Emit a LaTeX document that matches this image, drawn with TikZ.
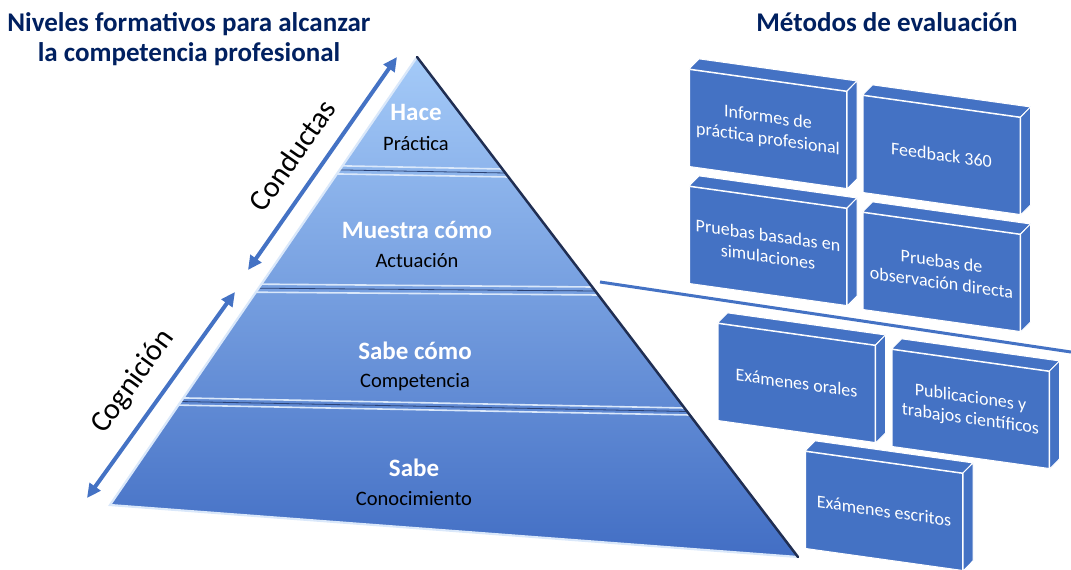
\documentclass[tikz,border=0pt]{standalone}
\usepackage{fontspec}
\setmainfont{Carlito}
\usetikzlibrary{arrows.meta,calc,positioning}

\definecolor{titulo}{RGB}{0,32,96}
\definecolor{cajaazul}{RGB}{68,114,196}
\definecolor{piratop}{RGB}{164,202,248}
\definecolor{piramid}{RGB}{84,136,222}
\definecolor{pirabot}{RGB}{66,110,196}
\definecolor{sombra}{RGB}{32,46,82}
\definecolor{brillo}{RGB}{218,232,250}

\tikzset{
  titulo/.style={font=\bfseries\fontsize{27}{30}\selectfont, text=titulo, align=center, inner sep=0pt},
  nivel/.style={font=\bfseries\fontsize{25}{28}\selectfont, text=white},
  sub/.style={font=\fontsize{20.5}{24}\selectfont, text=black},
  eje/.style={font=\fontsize{30}{34}\selectfont, text=black},
  flecha/.style={cajaazul, line width=4pt},
  metodo/.style={draw=white, line width=1pt, fill=cajaazul, text=white,
    minimum width=157pt, minimum height=97pt, align=center,
    font=\fontsize{18}{21.5}\selectfont, transform shape},
  cara/.style={draw=white, line width=1pt, fill=cajaazul, line join=round},
  borde/.style={brillo, line width=1.6pt},
  corte/.style={sombra!70!cajaazul, line width=0.8pt}
}

% top and side face of a box
\newcommand{\caras}[1]{%
  \filldraw[cara] (#1.north west) -- (#1.north east)
    -- ($(#1.north east)+(10,-11.5)$) -- ($(#1.north west)+(10,-11.5)$) -- cycle;
  \filldraw[cara] (#1.north east) -- ($(#1.north east)+(10,-11.5)$)
    -- ($(#1.south east)+(10,-11.5)$) -- (#1.south east) -- cycle;
}

\begin{document}
\begin{tikzpicture}[x=1pt,y=-1pt,>={Triangle[length=14pt,width=13pt]},node distance=31pt]
  \useasboundingbox (0,0) rectangle (1071,570);

  % titles
  \node[titulo, anchor=north] (tizq) at (189,12) {Niveles formativos para alcanzar\\la competencia profesional};
  \node[titulo, anchor=base] (tder) at (887,31) {Métodos de evaluación};

  % pyramid
  \coordinate (apex) at (417,57);
  \coordinate (bl) at (110,505);
  \coordinate (br) at (798,557);
  \shade[top color=piratop, middle color=piramid, bottom color=pirabot] (apex) -- (bl) -- (br) -- cycle;

  \draw[borde] ($(apex)!0.243!(bl)$) -- ($(apex)!0.224!(br)$);
  \draw[corte] ($(apex)!0.252!(bl)$) -- ($(apex)!0.232!(br)$);
  \draw[borde] ($(apex)!0.261!(bl)$) -- ($(apex)!0.240!(br)$);

  \draw[borde] ($(apex)!0.507!(bl)$) -- ($(apex)!0.460!(br)$);
  \draw[corte] ($(apex)!0.516!(bl)$) -- ($(apex)!0.468!(br)$);
  \draw[borde] ($(apex)!0.525!(bl)$) -- ($(apex)!0.476!(br)$);

  \draw[borde] ($(apex)!0.761!(bl)$) -- ($(apex)!0.702!(br)$);
  \draw[corte] ($(apex)!0.769!(bl)$) -- ($(apex)!0.709!(br)$);
  \draw[borde] ($(apex)!0.777!(bl)$) -- ($(apex)!0.716!(br)$);

  \draw[borde, line width=2.2pt] (apex) -- (bl) -- (br);
  \draw[sombra, line width=2.5pt, line cap=round] (apex) -- (br);

  \node[nivel] (hace) at (416,112) {Hace};
  \node[sub] (practica) [below of=hace] {Práctica};
  \node[nivel] (muestra) at (417,230) {Muestra cómo};
  \node[sub] (actuacion) [below of=muestra] {Actuación};
  \node[nivel] (sabecomo) at (415,351) {Sabe cómo};
  \node[sub] (competencia) [below of=sabecomo] {Competencia};
  \node[nivel] (sabe) at (414,468) {Sabe};
  \node[sub] (conocimiento) [below of=sabe] {Conocimiento};

  % side arrows
  \coordinate (cond1) at (248,270);
  \coordinate (cond2) at (397,57);
  \draw[<->, flecha] (cond1) -- (cond2);
  \node[eje, rotate=55] (conductas) at (292,155) {Conductas};

  \coordinate (cogn1) at (87,498);
  \coordinate (cogn2) at (235,292);
  \draw[<->, flecha] (cogn1) -- (cogn2);
  \node[eje, rotate=54] (cognicion) at (133,382) {Cognición};

  % separator
  \coordinate (sep1) at (600,282);
  \coordinate (sep2) at (1071,352);
  \draw[cajaazul, line width=3pt] (sep1) -- (sep2);

  % evaluation boxes
  \begin{scope}[yslant=-0.14]
    \node[metodo] (informes) at (768,21.5) {Informes de\\práctica profesional};
    \node[metodo] (feedback) at (941.5,23.2) {Feedback 360};
    \node[metodo] (simulacion) at (768,138.5) {Pruebas basadas en\\simulaciones};
    \node[metodo] (observacion) at (941.5,140.2) {Pruebas de\\observación directa};
    \node[metodo] (orales) at (796.5,271.5) {Exámenes orales};
    \node[metodo] (publicaciones) at (970.5,273.1) {Publicaciones y\\trabajos científicos};
    \node[metodo] (escritos) at (884,387.2) {Exámenes escritos};
    \caras{informes}
    \caras{feedback}
    \caras{simulacion}
    \caras{observacion}
    \caras{orales}
    \caras{publicaciones}
    \caras{escritos}
  \end{scope}
\end{tikzpicture}
\end{document}
